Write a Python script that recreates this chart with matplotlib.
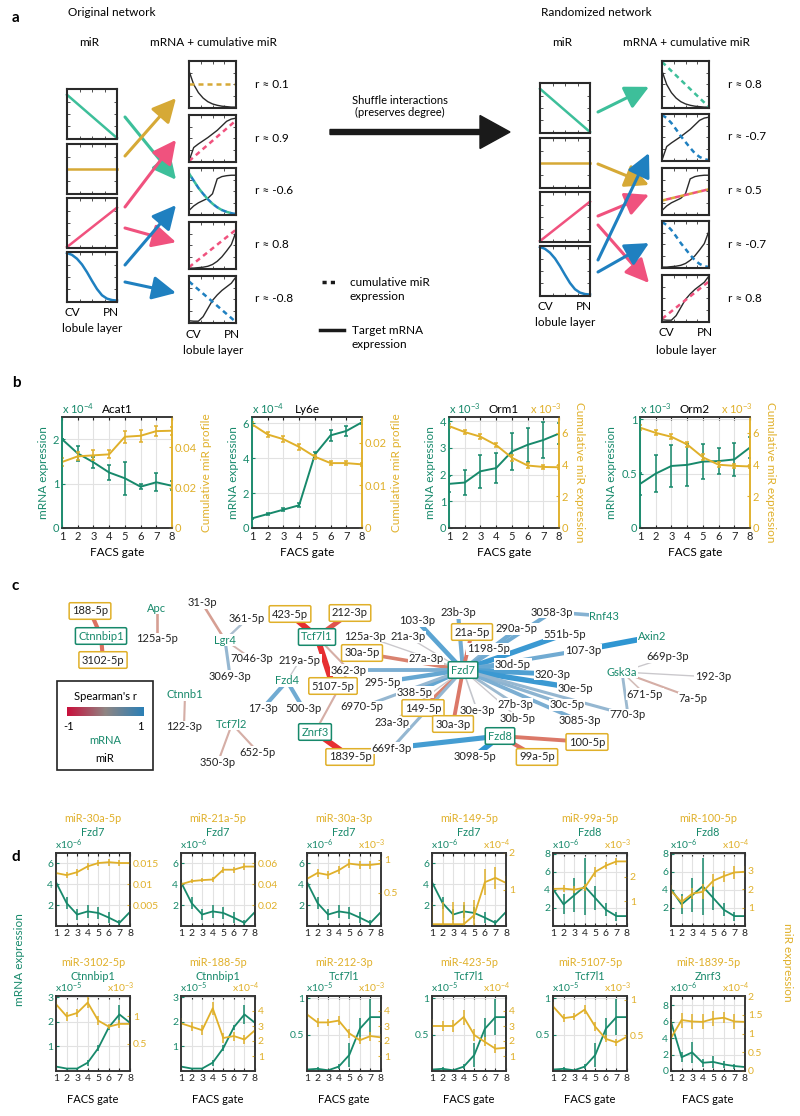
import matplotlib
matplotlib.use('Agg')
import matplotlib.pyplot as plt
import numpy as np
from matplotlib.colors import LinearSegmentedColormap
from matplotlib.patches import Rectangle
from matplotlib.ticker import FormatStrFormatter

plt.rcParams['font.family'] = ['Lato', 'DejaVu Sans']
plt.rcParams['font.size'] = 7
plt.rcParams['mathtext.fontset'] = 'custom'
plt.rcParams['mathtext.rm'] = 'Lato'
plt.rcParams['mathtext.it'] = 'Lato:italic'
plt.rcParams['mathtext.bf'] = 'Lato:bold'
plt.rcParams['mathtext.sf'] = 'Lato'

# colours
GREEN = '#17896b'
YELLOW = '#e0b02a'
A_GREEN = '#3dbf9a'
A_YELLOW = '#d6a936'
A_PINK = '#f0527e'
A_BLUE = '#1f80c0'
DARK = '#333333'
FA = 8.5  # panel a text size

# ---------------- panel a data (schematic profiles, CV -> PN) ----------------
mir_green = [0.9, 0.0]
mir_yellow = [0.5, 0.5]
mir_pink = [0.0, 0.82]
mir_blue = [1.0, 0.96, 0.88, 0.76, 0.6, 0.42, 0.25, 0.12, 0.05, 0.02, 0.01]

m_decay = [0.8, 0.5, 0.32, 0.2, 0.12, 0.07, 0.04, 0.02, 0.01, 0.0, 0.0]
m_rise = [0.0, 0.3, 0.38, 0.45, 0.52, 0.6, 0.68, 0.78, 0.88, 0.93, 0.95]
m_step = [0.08, 0.18, 0.25, 0.3, 0.35, 0.45, 0.78, 0.83, 0.85, 0.86, 0.86]
m_convex = [0.0, 0.0, 0.01, 0.02, 0.04, 0.08, 0.15, 0.25, 0.38, 0.52, 0.8]
m_late = [0.03, 0.02, 0.02, 0.12, 0.3, 0.48, 0.6, 0.7, 0.78, 0.86, 1.0]

cum_flat = [0.5, 0.5]
cum_up = [0.0, 0.9]
cum_down_curve = [0.9, 0.74, 0.58, 0.45, 0.33, 0.23, 0.15, 0.09, 0.05, 0.02, 0.0]
cum_up2 = [0.02, 0.85]
cum_down_lin = [0.9, 0.0]
cum_green_lin = [1.0, 0.0]
cum_down_sig = [1.0, 0.93, 0.82, 0.68, 0.53, 0.4, 0.27, 0.15, 0.07, 0.02, 0.0]
cum_mix = [0.3, 0.55]
cum_pink_lin = [0.05, 0.88]

r_orig = ['0.1', '0.9', '-0.6', '0.8', '-0.8']
r_rand = ['0.8', '-0.7', '0.5', '-0.7', '0.8']

# ---------------- panel b data ----------------
gates = [1, 2, 3, 4, 5, 6, 7, 8]
b_genes = ['Acat1', 'Ly6e', 'Orm1', 'Orm2']

acat1 = [2.0, 1.68, 1.48, 1.25, 1.12, 0.93, 1.03, 0.95]
acat1_err = [0.0, 0.17, 0.12, 0.18, 0.37, 0.05, 0.2, 0.1]
acat1_mir = [0.0327, 0.0355, 0.036, 0.0365, 0.0452, 0.0457, 0.048, 0.0482]
acat1_mir_err = [0.002, 0.002, 0.0025, 0.002, 0.003, 0.003, 0.0025, 0.002]

ly6e = [0.55, 0.8, 1.05, 1.3, 4.2, 5.3, 5.55, 6.05]
ly6e_err = [0.05, 0.05, 0.08, 0.12, 0.15, 0.3, 0.3, 0.1]
ly6e_mir = [0.0243, 0.0219, 0.0208, 0.019, 0.0167, 0.0152, 0.0152, 0.0149]
ly6e_mir_err = [0.0005, 0.0007, 0.0007, 0.0007, 0.0005, 0.0005, 0.0005, 0.0004]

orm1 = [1.65, 1.7, 2.12, 2.24, 2.86, 3.11, 3.29, 3.53]
orm1_err = [0.3, 0.48, 0.62, 0.55, 0.7, 0.63, 0.68, 0.4]
orm1_mir = [6.43, 6.05, 5.76, 5.23, 4.43, 3.94, 3.85, 3.83]
orm1_mir_err = [0.15, 0.15, 0.15, 0.15, 0.2, 0.15, 0.12, 0.12]

orm2 = [0.405, 0.5, 0.57, 0.58, 0.61, 0.615, 0.63, 0.74]
orm2_err = [0.1, 0.17, 0.19, 0.19, 0.16, 0.12, 0.15, 0.1]
orm2_mir = [6.33, 6.0, 5.75, 5.27, 4.46, 3.99, 3.92, 3.88]
orm2_mir_err = [0.15, 0.15, 0.15, 0.15, 0.2, 0.15, 0.12, 0.12]

b_mrna = [acat1, ly6e, orm1, orm2]
b_mrna_err = [acat1_err, ly6e_err, orm1_err, orm2_err]
b_mir = [acat1_mir, ly6e_mir, orm1_mir, orm2_mir]
b_mir_err = [acat1_mir_err, ly6e_mir_err, orm1_mir_err, orm2_mir_err]
b_lim_l = [2.5, 6.35, 4.15, 1.02]
b_ticks_l = [[0, 1, 2], [0, 2, 4, 6], [0, 1, 2, 3, 4], [0, 0.5, 1]]
b_lim_r = [0.055, 0.026, 7.0, 7.0]
b_ticks_r = [[0, 0.02, 0.04], [0, 0.01, 0.02], [0, 2, 4, 6], [0, 2, 4, 6]]
b_exp_l = ['-4', '-4', '-3', '-3']
b_exp_r = [None, None, '-3', '-3']
b_rlabel = ['Cumulative miR profile', 'Cumulative miR profile',
            'Cumulative miR expression', 'Cumulative miR expression']

# ---------------- panel c data (network) ----------------
c_names = ['188-5p', 'Ctnnbip1', '3102-5p', 'Apc', '125a-5p',
           '31-3p', '361-5p', 'Lgr4', '7046-3p', '3069-3p',
           '423-5p', '212-3p', 'Tcf7l1', '125a-3p', '30a-5p', '219a-5p', '362-3p',
           '5107-5p', 'Fzd4', '295-5p', '17-3p', '500-3p', 'Znrf3', '1839-5p',
           '6970-5p', '23a-3p', 'Ctnnb1', '122-3p', 'Tcf7l2', '350-3p', '652-5p',
           'Fzd7', '103-3p', '23b-3p', '21a-5p', '21a-3p', '290a-5p', '1198-5p',
           '3058-3p', 'Rnf43', '551b-5p', '107-3p', 'Axin2', '27a-3p', '30d-5p',
           '320-3p', '30e-5p', '669p-3p', 'Gsk3a', '192-3p', '671-5p', '7a-5p',
           '770-3p', '30c-5p', '3085-3p', '27b-3p', '30b-5p', '30e-3p', '338-5p',
           '149-5p', '30a-3p', '669f-3p', 'Fzd8', '3098-5p', '99a-5p', '100-5p']
c_x = [90, 101, 103, 157, 157,
       202, 247, 225, 252, 230,
       290, 350, 317, 365, 362, 300, 349,
       333, 287, 383, 263, 303, 315, 350,
       362, 392, 185, 184, 232, 218, 258,
       463, 417, 458, 472, 408, 517, 488,
       552, 604, 565, 583, 652, 426, 513,
       553, 575, 668, 622, 713, 645, 693,
       628, 567, 580, 515, 518, 477, 415,
       423, 453, 392, 500, 475, 537, 587]
c_y = [611, 636, 660, 608, 639,
       603, 619, 640, 659, 676,
       614, 613, 637, 636, 653, 660, 670,
       686, 681, 682, 708, 708, 732, 757,
       707, 722, 695, 727, 724, 762, 752,
       670, 621, 613, 632, 637, 629, 649,
       612, 616, 634, 650, 637, 659, 664,
       674, 688, 657, 672, 677, 694, 698,
       715, 705, 721, 704, 718, 710, 692,
       708, 724, 748, 736, 756, 757, 742]
mrna_boxed = ['Ctnnbip1', 'Tcf7l1', 'Fzd7', 'Znrf3', 'Fzd8']
mrna_plain = ['Apc', 'Lgr4', 'Fzd4', 'Ctnnb1', 'Tcf7l2', 'Rnf43', 'Axin2', 'Gsk3a']
mir_boxed = ['188-5p', '3102-5p', '423-5p', '212-3p', '30a-5p', '5107-5p', '21a-5p',
             '149-5p', '30a-3p', '1839-5p', '99a-5p', '100-5p']

edge_mrna = (['Ctnnbip1'] * 2 + ['Apc'] + ['Lgr4'] * 4 + ['Tcf7l1'] * 4 + ['Fzd4'] * 3 +
             ['Ctnnb1'] + ['Tcf7l2'] * 2 + ['Znrf3'] * 2 + ['Fzd7'] * 29 + ['Fzd8'] * 4 +
             ['Rnf43', 'Axin2'] + ['Gsk3a'] * 5)
edge_mir = ['188-5p', '3102-5p', '125a-5p',
            '31-3p', '361-5p', '7046-3p', '3069-3p',
            '423-5p', '212-3p', '5107-5p', '362-3p',
            '219a-5p', '17-3p', '500-3p', '122-3p', '350-3p', '652-5p',
            '1839-5p', '362-3p',
            '103-3p', '23b-3p', '21a-5p', '21a-3p', '125a-3p', '290a-5p', '1198-5p',
            '3058-3p', '551b-5p', '107-3p', '27a-3p', '30a-5p', '362-3p', '295-5p',
            '30d-5p', '320-3p', '30e-5p', '338-5p', '149-5p', '6970-5p', '23a-3p',
            '30a-3p', '30e-3p', '27b-3p', '30b-5p', '30c-5p', '3085-3p', '770-3p',
            '669f-3p',
            '669f-3p', '3098-5p', '99a-5p', '100-5p',
            '3058-3p', '107-3p',
            '669p-3p', '192-3p', '671-5p', '7a-5p', '770-3p']
edge_r = [-0.6, -0.6, -0.3,
          -0.3, 0.25, -0.15, 0.4,
          -0.95, -0.75, -0.95, -0.2,
          0.05, 0.6, 0.6, -0.2, -0.2, -0.2,
          -0.95, -0.2,
          0.7, 0.6, -0.55, 0.05, 0.05, 0.6, 0.5,
          0.6, 0.85, 0.6, -0.05, -0.5, 0.55, 0.65,
          0.65, 0.75, 0.85, 0.65, -0.5, 0.4, 0.05,
          -0.55, 0.1, 0.35, 0.05, 0.45, 0.55, 0.4,
          0.4,
          0.8, 0.9, -0.6, -0.55,
          0.5, 0.9,
          0.05, 0.05, -0.1, -0.2, 0.35]

# ---------------- panel d data ----------------
fzd7 = [4.2, 2.2, 1.1, 1.4, 1.25, 0.8, 0.3, 1.35]
fzd7_err = [0.3, 0.6, 0.5, 0.6, 0.6, 0.5, 0.3, 0.4]
fzd8 = [4.1, 2.4, 3.4, 4.4, 3.1, 1.8, 1.1, 1.1]
fzd8_err = [1.9, 1.1, 1.9, 3.2, 1.3, 0.7, 0.5, 0.4]
ctnnbip1 = [0.18, 0.1, 0.1, 0.34, 0.93, 1.78, 2.3, 1.96]
ctnnbip1_err = [0.05, 0.04, 0.04, 0.12, 0.12, 0.1, 0.4, 0.4]
tcf7l1 = [0.02, 0.03, 0.01, 0.06, 0.22, 0.58, 0.74, 0.74]
tcf7l1_err = [0.01, 0.02, 0.01, 0.03, 0.17, 0.15, 0.25, 0.3]
znrf3 = [5.95, 1.67, 2.26, 1.0, 1.1, 0.8, 0.6, 0.48]
znrf3_err = [0.5, 0.6, 1.3, 0.5, 0.7, 0.4, 0.3, 0.2]

mir_30a_5p = [0.0127, 0.0122, 0.0129, 0.0143, 0.0151, 0.0153, 0.0151, 0.0151]
mir_21a_5p = [0.040, 0.043, 0.044, 0.0446, 0.054, 0.054, 0.057, 0.057]
mir_30a_3p = [0.71, 0.8, 0.77, 0.84, 0.94, 0.92, 0.92, 0.94]
mir_149_5p = [0.05, 0.05, 0.05, 0.05, 0.3, 1.2, 1.32, 1.18]
mir_99a_5p = [1.5, 1.51, 1.47, 1.55, 2.19, 2.44, 2.61, 2.61]
mir_100_5p = [1.9, 1.3, 1.75, 1.85, 2.45, 2.7, 2.9, 2.93]
mir_3102_5p = [1.22, 1.0, 1.06, 1.25, 0.92, 0.81, 0.86, 0.86]
mir_188_5p = [3.18, 2.95, 2.72, 4.18, 2.2, 2.33, 2.1, 2.72]
mir_212_3p = [3.77, 3.24, 3.24, 3.36, 2.51, 2.05, 2.33, 2.24]
mir_423_5p = [3.0, 3.0, 3.0, 3.6, 2.4, 1.94, 1.49, 1.55]
mir_5107_5p = [0.905, 0.74, 0.76, 0.86, 0.62, 0.45, 0.40, 0.48]
mir_1839_5p = [0.88, 1.36, 1.32, 1.31, 1.39, 1.42, 1.32, 1.31]

mir_30a_5p_err = [0.0008, 0.0008, 0.0008, 0.0008, 0.0008, 0.0008, 0.0008, 0.0008]
mir_21a_5p_err = [0.002, 0.002, 0.002, 0.002, 0.003, 0.003, 0.003, 0.002]
mir_30a_3p_err = [0.05, 0.06, 0.06, 0.06, 0.07, 0.06, 0.06, 0.05]
mir_149_5p_err = [0.6, 0.6, 0.6, 0.6, 0.4, 0.35, 0.3, 0.2]
mir_99a_5p_err = [0.15, 0.15, 0.15, 0.15, 0.2, 0.15, 0.15, 0.1]
mir_100_5p_err = [0.3, 0.3, 0.3, 0.4, 0.35, 0.3, 0.35, 0.3]
mir_3102_5p_err = [0.08, 0.08, 0.08, 0.1, 0.08, 0.05, 0.08, 0.08]
mir_188_5p_err = [0.35, 0.3, 0.35, 0.45, 0.35, 0.3, 0.3, 0.3]
mir_212_3p_err = [0.3, 0.3, 0.25, 0.3, 0.3, 0.25, 0.3, 0.25]
mir_423_5p_err = [0.5, 0.35, 0.4, 0.5, 0.4, 0.3, 0.3, 0.2]
mir_5107_5p_err = [0.06, 0.06, 0.05, 0.06, 0.06, 0.05, 0.05, 0.04]
mir_1839_5p_err = [0.5, 0.2, 0.2, 0.2, 0.2, 0.15, 0.2, 0.15]

d_mir_names = ['miR-30a-5p', 'miR-21a-5p', 'miR-30a-3p', 'miR-149-5p', 'miR-99a-5p', 'miR-100-5p',
               'miR-3102-5p', 'miR-188-5p', 'miR-212-3p', 'miR-423-5p', 'miR-5107-5p', 'miR-1839-5p']
d_mrna_names = ['Fzd7', 'Fzd7', 'Fzd7', 'Fzd7', 'Fzd8', 'Fzd8',
                'Ctnnbip1', 'Ctnnbip1', 'Tcf7l1', 'Tcf7l1', 'Tcf7l1', 'Znrf3']
d_mrna = [fzd7, fzd7, fzd7, fzd7, fzd8, fzd8, ctnnbip1, ctnnbip1, tcf7l1, tcf7l1, tcf7l1, znrf3]
d_mrna_err = [fzd7_err, fzd7_err, fzd7_err, fzd7_err, fzd8_err, fzd8_err,
              ctnnbip1_err, ctnnbip1_err, tcf7l1_err, tcf7l1_err, tcf7l1_err, znrf3_err]
d_mir = [mir_30a_5p, mir_21a_5p, mir_30a_3p, mir_149_5p, mir_99a_5p, mir_100_5p,
         mir_3102_5p, mir_188_5p, mir_212_3p, mir_423_5p, mir_5107_5p, mir_1839_5p]
d_mir_err = [mir_30a_5p_err, mir_21a_5p_err, mir_30a_3p_err, mir_149_5p_err, mir_99a_5p_err,
             mir_100_5p_err, mir_3102_5p_err, mir_188_5p_err, mir_212_3p_err, mir_423_5p_err,
             mir_5107_5p_err, mir_1839_5p_err]
d_lim_l = [7, 7, 7, 7, 8.1, 8.1, 3.05, 3.05, 1.03, 1.03, 1.03, 9.1]
d_ticks_l = [[2, 4, 6]] * 4 + [[2, 4, 6, 8]] * 2 + [[1, 2, 3]] * 2 + [[0.5, 1]] * 3 + [[0, 2, 4, 6, 8]]
d_lim_r = [0.0175, 0.07, 1.1, 2.0, 2.95, 3.95, 1.37, 5.0, 5.0, 5.0, 1.05, 2.0]
d_ticks_r = [[0.005, 0.01, 0.015], [0.02, 0.04, 0.06], [0.5, 1], [1, 2], [1, 2], [1, 2, 3],
             [0.5, 1], [1, 2, 3, 4], [1, 2, 3, 4], [1, 2, 3, 4], [0.5, 1], [0, 0.5, 1, 1.5, 2]]
d_exp_l = ['-6'] * 6 + ['-5'] * 5 + ['-6']
d_exp_r = [None, None, '-3', '-4', '-3', '-4', '-3', '-4', '-3', '-4', '-3', '-4']

# ---------------- figure ----------------
W, H = 800, 1116
fig = plt.figure(figsize=(8, 11.16), dpi=100)
ov = fig.add_axes([0, 0, 1, 1])
ov.set_xlim(0, W)
ov.set_ylim(H, 0)
ov.axis('off')


def px_axes(l, t, w, h):
    return fig.add_axes([l / W, 1 - (t + h) / H, w / W, h / H])


def mini(l, t, w, h):
    ax = px_axes(l, t, w, h)
    ax.set_xlim(0, 1)
    ax.set_ylim(-0.02, 1.02)
    ax.set_xticks([0.25, 0.5, 0.75])
    ax.set_yticks([0.25, 0.5, 0.75])
    ax.tick_params(direction='in', length=2, width=0.6, labelleft=False, labelbottom=False,
                   top=True, right=True, color=DARK)
    for s in ax.spines.values():
        s.set_color('#2a2a2a')
        s.set_linewidth(1.5)
    return ax


def curve(ax, vals, color, dashed=False, offset=0):
    xs = np.linspace(0, 1, len(vals))
    if dashed:
        ax.plot(xs, vals, color=color, lw=1.8, linestyle=(offset, (2, 1.6)), clip_on=False)
    else:
        ax.plot(xs, vals, color=color, lw=1.8, clip_on=False)


def network(x0, title, left_t, right_x, right_t, right_dash, rlabels, arrows):
    # x0: left edge of miR boxes
    ov.text(x0 + 1, 13, title, fontsize=FA, ha='left', va='center')
    ov.text(x0 + 22, 42, 'miR', fontsize=FA, ha='center', va='center')
    ov.text(right_x + 24, 42, 'mRNA + cumulative miR', fontsize=FA, ha='center', va='center')
    for t, vals, c in zip(left_t, [mir_green, mir_yellow, mir_pink, mir_blue],
                          [A_GREEN, A_YELLOW, A_PINK, A_BLUE]):
        ax = mini(x0, t, 50, 50)
        curve(ax, vals, c)
    blacks = [m_decay, m_rise, m_step, m_convex, m_late]
    for t, blk, (dvals, dcols), lab in zip(right_t, blacks, right_dash, rlabels):
        ax = mini(right_x, t, 47, 47)
        curve(ax, blk, '#2a2a2a')
        ax.lines[-1].set_linewidth(1.0)
        for i, c in enumerate(dcols):
            curve(ax, dvals, c, dashed=True, offset=1.8 * i)
        ov.text(right_x + 66, t + 23, 'r \u2248 ' + lab, fontsize=FA, ha='left', va='center')
    ov.text(x0 + 5, left_t[-1] + 61, 'CV', fontsize=FA, ha='center', va='center')
    ov.text(x0 + 44, left_t[-1] + 61, 'PN', fontsize=FA, ha='center', va='center')
    ov.text(x0 + 25, left_t[-1] + 77, 'lobule layer', fontsize=FA, ha='center', va='center')
    ov.text(right_x + 4, right_t[-1] + 58, 'CV', fontsize=FA, ha='center', va='center')
    ov.text(right_x + 43, right_t[-1] + 58, 'PN', fontsize=FA, ha='center', va='center')
    ov.text(right_x + 24, right_t[-1] + 75, 'lobule layer', fontsize=FA, ha='center', va='center')
    for sb, sf, db, df, c in arrows:
        start = (x0 + 58, left_t[sb] + 50 * sf)
        end = (right_x - 13, right_t[db] + 47 * df)
        ov.annotate('', xy=end, xytext=start,
                    arrowprops=dict(arrowstyle='-|>,head_length=0.9,head_width=0.45',
                                    color=c, lw=2.2, shrinkA=0, shrinkB=0, mutation_scale=16))


ov.text(12, 18, 'a', fontsize=11, fontweight='bold', ha='left', va='center')
network(67, 'Original network', [89, 144, 198, 252], 189, [61, 115, 168, 222, 276],
        [(cum_flat, [A_YELLOW]), (cum_up, [A_PINK]), (cum_down_curve, [A_GREEN, A_BLUE]),
         (cum_up2, [A_PINK]), (cum_down_lin, [A_BLUE])], r_orig,
        [(0, 0.56, 2, 0.25, A_GREEN), (1, 0.24, 0, 0.79, A_YELLOW), (2, 0.18, 1, 0.53, A_PINK),
         (2, 0.6, 3, 0.43, A_PINK), (3, 0.26, 2, 0.79, A_BLUE), (3, 0.6, 4, 0.36, A_BLUE)])
network(540, 'Randomized network', [83, 138, 192, 246], 662, [61, 114, 168, 221, 275],
        [(cum_green_lin, [A_GREEN]), (cum_down_sig, [A_BLUE]), (cum_mix, [A_YELLOW, A_PINK]),
         (cum_down_sig, [A_BLUE]), (cum_pink_lin, [A_PINK])], r_rand,
        [(0, 0.58, 0, 0.55, A_GREEN), (1, 0.52, 2, 0.36, A_YELLOW), (2, 0.48, 2, 0.57, A_PINK),
         (2, 0.66, 4, 0.17, A_PINK), (3, 0.28, 1, 0.83, A_BLUE), (3, 0.52, 3, 0.47, A_BLUE)])

# shuffle arrow and legend
ov.text(400, 100, 'Shuffle interactions', fontsize=8, ha='center', va='center')
ov.text(400, 112, '(preserves degree)', fontsize=8, ha='center', va='center')
ov.arrow(330, 132, 180, 0, width=5, head_width=33, head_length=30,
         length_includes_head=True, color='#1a1a1a')
ov.plot([322, 336], [282, 282], color='#1a1a1a', lw=2.5, linestyle=(0, (1.2, 1.2)),
        solid_capstyle='butt')
ov.text(350, 282, 'cumulative miR', fontsize=FA, ha='left', va='center')
ov.text(350, 296, 'expression', fontsize=FA, ha='left', va='center')
ov.plot([320, 344], [330, 330], color='#1a1a1a', lw=2.5)
ov.text(352, 330, 'Target mRNA', fontsize=FA, ha='left', va='center')
ov.text(352, 345, 'expression', fontsize=FA, ha='left', va='center')


# ---------------- helpers for twin axes ----------------
def twin_style(ax, ax2, lim_l, ticks_l, lim_r, ticks_r, fs, colored_spines):
    ax.set_xlim(1, 8)
    ax.set_xticks(gates)
    ax.set_ylim(0, lim_l)
    ax.set_yticks(ticks_l)
    ax2.set_ylim(0, lim_r)
    ax2.set_yticks(ticks_r)
    ax.yaxis.set_major_formatter(FormatStrFormatter('%g'))
    ax2.yaxis.set_major_formatter(FormatStrFormatter('%g'))
    ax.grid(True, color='#e2e2e2', lw=0.8)
    ax.set_axisbelow(True)
    ax.tick_params(axis='x', direction='in', length=2.5, labelsize=fs, top=True, pad=2,
                   colors='#222222')
    ax.tick_params(axis='y', direction='in', length=2.5, labelsize=fs, pad=2, colors=GREEN)
    ax2.tick_params(axis='y', direction='in', length=2.5, labelsize=fs, pad=2, colors=YELLOW)
    for a in (ax, ax2):
        a.spines['top'].set_color(DARK)
        a.spines['bottom'].set_color(DARK)
        a.spines['left'].set_color(GREEN if colored_spines else DARK)
        a.spines['right'].set_color(YELLOW if colored_spines else DARK)
        for s in a.spines.values():
            s.set_linewidth(1.1)


# ---------------- panel b ----------------
ov.text(12, 383, 'b', fontsize=11, fontweight='bold', ha='left', va='center')
b_left = [62, 252, 449, 640]
for i in range(4):
    ax = px_axes(b_left[i], 417, 110, 111)
    ax2 = ax.twinx()
    ax.errorbar(gates, b_mrna[i], yerr=b_mrna_err[i], color=GREEN, lw=1.4, elinewidth=1.1,
                capsize=1.5, capthick=1.1)
    ax2.errorbar(gates, b_mir[i], yerr=b_mir_err[i], color=YELLOW, lw=1.4, elinewidth=1.1,
                 capsize=1.5, capthick=1.1)
    twin_style(ax, ax2, b_lim_l[i], b_ticks_l[i], b_lim_r[i], b_ticks_r[i], 8, True)
    ax.set_title(b_genes[i], fontsize=8.5, pad=3)
    ax.text(0, 1.01, r'x 10$^{' + b_exp_l[i] + '}$', transform=ax.transAxes, color=GREEN,
            fontsize=8, ha='left', va='bottom')
    if b_exp_r[i]:
        ax.text(1.03, 1.01, r'x 10$^{' + b_exp_r[i] + '}$', transform=ax.transAxes,
                color=YELLOW, fontsize=8, ha='right', va='bottom')
    ax.set_ylabel('mRNA expression', color=GREEN, fontsize=8.5, labelpad=3)
    rot = 90 if i < 2 else -90
    ax2.set_ylabel(b_rlabel[i], color=YELLOW, fontsize=8.5, rotation=rot,
                   labelpad=3 if i < 2 else 12)
    ax.set_xlabel('FACS gate', fontsize=8.5, labelpad=4)

# ---------------- panel c ----------------
ov.text(12, 586, 'c', fontsize=11, fontweight='bold', ha='left', va='center')
edge_cmap = LinearSegmentedColormap.from_list(
    'edges', ['#e8262b', '#d9826f', '#d2cbcb', '#86b2d2', '#1b8fd2'])
legend_cmap = LinearSegmentedColormap.from_list('legend', ['#c8103c', '#8f8583', '#2b7fb5'])
pos = {n: (x, y) for n, x, y in zip(c_names, c_x, c_y)}
for a, b, r in zip(edge_mrna, edge_mir, edge_r):
    (x1, y1), (x2, y2) = pos[a], pos[b]
    ov.plot([x1, x2], [y1, y2], color=edge_cmap((r + 1) / 2), lw=0.8 + 3.6 * abs(r),
            solid_capstyle='butt', zorder=2)
FC = 8
for n in c_names:
    x, y = pos[n]
    if n in mrna_boxed:
        ov.text(x, y, n, color=GREEN, fontsize=FC, ha='center', va='center', zorder=4,
                bbox=dict(boxstyle='round,pad=0.25,rounding_size=0.12', fc='white',
                          ec=GREEN, lw=1.1))
    elif n in mrna_plain:
        ov.text(x, y, n, color=GREEN, fontsize=FC, ha='center', va='center', zorder=4,
                bbox=dict(boxstyle='square,pad=0.05', fc='white', ec='none'))
    elif n in mir_boxed:
        ov.text(x, y, n, color='#222222', fontsize=FC, ha='center', va='center', zorder=4,
                bbox=dict(boxstyle='round,pad=0.25,rounding_size=0.12', fc='white',
                          ec=YELLOW, lw=1.1))
    else:
        ov.text(x, y, n, color='#222222', fontsize=FC, ha='center', va='center', zorder=4,
                bbox=dict(boxstyle='square,pad=0.05', fc='white', ec='none'))

# legend box
ov.add_patch(Rectangle((57, 681), 96, 89, fill=False, ec='#222222', lw=1.2))
ov.text(105, 696, "Spearman's r", fontsize=FC, ha='center', va='center')
cb = px_axes(67, 707, 76, 9)
cb.imshow(np.linspace(-1, 1, 100)[None, :], aspect='auto', cmap=legend_cmap)
cb.axis('off')
ov.text(69, 727, '-1', fontsize=FC, ha='center', va='center')
ov.text(140, 727, '1', fontsize=FC, ha='center', va='center')
ov.text(105, 741, 'mRNA', fontsize=FC, ha='center', va='center', color=GREEN)
ov.text(105, 758, 'miR', fontsize=FC, ha='center', va='center')

# ---------------- panel d ----------------
ov.text(12, 857, 'd', fontsize=11, fontweight='bold', ha='left', va='center')
d_left = [56, 181, 307, 432, 553, 671]
d_top = [853, 996]
d_h = [73, 75]
for k in range(12):
    row, col = divmod(k, 6)
    ax = px_axes(d_left[col], d_top[row], 74, d_h[row])
    ax2 = ax.twinx()
    ax.errorbar(gates, d_mrna[k], yerr=d_mrna_err[k], color=GREEN, lw=1.3, elinewidth=1.1)
    ax2.errorbar(gates, d_mir[k], yerr=d_mir_err[k], color=YELLOW, lw=1.3, elinewidth=1.1)
    twin_style(ax, ax2, d_lim_l[k], d_ticks_l[k], d_lim_r[k], d_ticks_r[k], 7.5, False)
    cx = d_left[col] + 37
    ov.text(cx, d_top[row] - 34, d_mir_names[k], color=YELLOW, fontsize=7.8, ha='center',
            va='center')
    ov.text(cx, d_top[row] - 20, d_mrna_names[k], color=GREEN, fontsize=7.8, ha='center',
            va='center')
    ax.text(-0.02, 1.01, r'x10$^{' + d_exp_l[k] + '}$', transform=ax.transAxes, color=GREEN,
            fontsize=7.5, ha='left', va='bottom')
    if d_exp_r[k]:
        ax.text(1.06, 1.01, r'x10$^{' + d_exp_r[k] + '}$', transform=ax.transAxes,
                color=YELLOW, fontsize=7.5, ha='right', va='bottom')
    if row == 1:
        ax.set_xlabel('FACS gate', fontsize=8, labelpad=8)
ov.text(20, 960, 'mRNA expression', rotation=90, color=GREEN, fontsize=8.5, ha='center',
        va='center')
ov.text(787, 962, 'miR expression', rotation=-90, color=YELLOW, fontsize=8.5, ha='center',
        va='center')

fig.savefig('out.png', dpi=100)
